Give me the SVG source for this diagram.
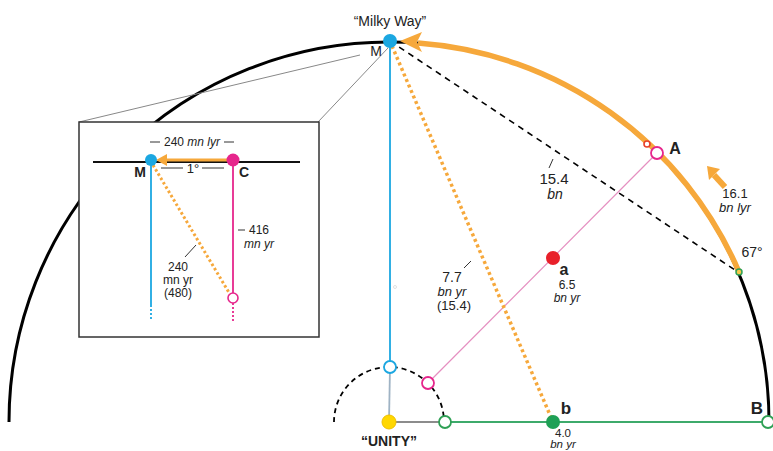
<svg xmlns="http://www.w3.org/2000/svg" width="773" height="451" viewBox="0 0 773 451">
<style>
text{font-family:"Liberation Sans","Noto Sans",Arial,sans-serif;fill:#222;}
.lbl{font-size:14px;text-anchor:middle;}
.big{font-size:15px;text-anchor:middle;}
.bold{font-weight:bold;font-size:15px;}
.it{font-style:italic;}
.small{font-size:12px;text-anchor:middle;}
.tick{stroke:#333;stroke-width:1;fill:none;}
.orange{stroke:#F6A83B;fill:none;}
.dotted{stroke:#F6A83B;stroke-width:3.5;stroke-dasharray:3 3;fill:none;}
</style>
<rect width="773" height="451" fill="#fff"/>
<g id="connectors">
  <path d="M 9 422 A 380 380 0 0 1 769 422" fill="none" stroke="#000" stroke-width="3"/>
  <path d="M 739 272 A 380 380 0 0 0 418 43" class="orange" stroke-width="5.5"/>
  <polygon points="400,41 422,32 417,42 422,52" fill="#F6A83B"/>
  <line x1="390" y1="41" x2="738" y2="272" stroke="#000" stroke-width="1.6" stroke-dasharray="6 5"/>
  <path d="M 334 422 A 55 55 0 0 1 444 422" fill="none" stroke="#000" stroke-width="1.8" stroke-dasharray="5 4"/>
  <line x1="390" y1="41" x2="390" y2="367" stroke="#1BA7E1" stroke-width="1.8"/>
  <line x1="390" y1="367" x2="389" y2="422" stroke="#9fb3c4" stroke-width="1.8"/>
  <line x1="657" y1="153" x2="428" y2="383" stroke="#E58FC0" stroke-width="1.2"/>
  <line x1="389" y1="422" x2="445" y2="422" stroke="#666" stroke-width="1.6"/>
  <line x1="445" y1="422" x2="768" y2="422" stroke="#3DAA6B" stroke-width="2.2"/>
  <line x1="392" y1="46" x2="553" y2="422" class="dotted"/>
  <line x1="360" y1="55" x2="79" y2="122" stroke="#888" stroke-width="1"/>
  <line x1="388" y1="48" x2="318" y2="122" stroke="#888" stroke-width="1"/>
  <line x1="725" y1="187" x2="714" y2="175" stroke="#F6A83B" stroke-width="6"/>
  <polygon points="707,166 720,169 709,180" fill="#F6A83B"/>
  <line x1="553" y1="159" x2="549" y2="168" class="tick"/>
  <line x1="471" y1="261" x2="464" y2="268" class="tick"/>
</g>
<g id="inset">
  <rect x="79" y="122" width="240" height="215" fill="#fff" stroke="#333" stroke-width="1.5"/>
  <line x1="93" y1="162" x2="300" y2="162" stroke="#111" stroke-width="1.8"/>
  <line x1="151" y1="160" x2="151" y2="305" stroke="#1BA7E1" stroke-width="1.8"/>
  <line x1="151" y1="305" x2="151" y2="320" stroke="#1BA7E1" stroke-width="1.8" stroke-dasharray="2 2"/>
  <line x1="233" y1="160" x2="233" y2="293" stroke="#E6268C" stroke-width="1.8"/>
  <line x1="233" y1="303" x2="233" y2="321" stroke="#E6268C" stroke-width="1.8" stroke-dasharray="2 2"/>
  <line x1="153" y1="165" x2="231" y2="296" stroke="#F6A83B" stroke-width="3" stroke-dasharray="2.5 2.5"/>
  <line x1="233" y1="160" x2="165" y2="160" stroke="#F6A83B" stroke-width="3"/>
  <polygon points="156,160 167,154 167,166" fill="#F6A83B"/>
  <circle cx="151" cy="160" r="6" fill="#1BA7E1"/>
  <circle cx="233" cy="160" r="6.5" fill="#E6268C"/>
  <circle cx="233" cy="298" r="5" fill="#fff" stroke="#E6268C" stroke-width="1.6"/>
  <line x1="150" y1="142" x2="160" y2="142" class="tick"/>
  <line x1="224" y1="142" x2="234" y2="142" class="tick"/>
  <text x="192" y="146" class="small">240 <tspan class="it">mn lyr</tspan></text>
  <line x1="161" y1="168" x2="183" y2="168" class="tick"/>
  <line x1="202" y1="168" x2="224" y2="168" class="tick"/>
  <text x="193" y="173" class="small" style="font-size:13px">1°</text>
  <text x="140" y="177" class="bold" text-anchor="middle" style="font-size:14px">M</text>
  <text x="244" y="177" class="bold" text-anchor="middle" style="font-size:14px">C</text>
  <line x1="238" y1="230" x2="245" y2="230" class="tick"/>
  <text x="259" y="234" class="small">416</text>
  <text x="259" y="248" class="small it">mn yr</text>
  <line x1="185" y1="257" x2="196" y2="245" class="tick"/>
  <text x="178" y="271" class="small">240</text>
  <text x="178" y="284" class="small">mn yr</text>
  <text x="178" y="297" class="small">(480)</text>
</g>
<g id="node-M">
  <circle cx="390" cy="41" r="7" fill="#1BA7E1"/>
  <text x="390" y="26" class="lbl">“Milky Way”</text>
  <text x="376" y="56" class="lbl">M</text>
</g>
<g id="node-A">
  <circle cx="647" cy="144" r="3" fill="#fff" stroke="#E8402A" stroke-width="1.6"/>
  <circle cx="657" cy="153" r="6" fill="#fff" stroke="#E6268C" stroke-width="1.8"/>
  <text x="675" y="154" class="bold" text-anchor="middle" style="font-size:16px">A</text>
</g>
<g id="node-67">
  <circle cx="739" cy="272" r="3" fill="#F6C84B" stroke="#2FA055" stroke-width="1.5"/>
  <text x="752" y="257" class="lbl">67°</text>
  <text x="735" y="198" class="lbl" style="font-size:13px">16.1</text>
  <text x="735" y="212" class="lbl it" style="font-size:13px">bn lyr</text>
</g>
<g id="label-15">
  <text x="554" y="184" class="big">15.4</text>
  <text x="555" y="199" class="big it" style="font-size:14px">bn</text>
</g>
<g id="label-77">
  <text x="452" y="282" class="lbl">7.7</text>
  <text x="452" y="296" class="lbl it" style="font-size:13px">bn yr</text>
  <text x="454" y="310" class="lbl" style="font-size:13px">(15.4)</text>
  <circle cx="395" cy="287" r="1.5" fill="none" stroke="#ccc" stroke-width="0.6"/>
</g>
<g id="node-a">
  <circle cx="553" cy="258" r="7" fill="#E8202A"/>
  <text x="564" y="275" class="bold" text-anchor="middle" style="font-size:16px">a</text>
  <text x="567" y="289" class="small">6.5</text>
  <text x="567" y="302" class="small it">bn yr</text>
</g>
<g id="node-unity">
  <circle cx="390" cy="367" r="6" fill="#fff" stroke="#1BA7E1" stroke-width="1.8"/>
  <circle cx="428" cy="383" r="6" fill="#fff" stroke="#E6268C" stroke-width="1.8"/>
  <circle cx="445" cy="422" r="6" fill="#fff" stroke="#2FA055" stroke-width="1.8"/>
  <circle cx="389" cy="422" r="7" fill="#FFD700" stroke="#F0C000" stroke-width="1"/>
  <text x="389" y="446" class="bold" text-anchor="middle" style="font-size:14px">“UNITY”</text>
</g>
<g id="node-b">
  <circle cx="553" cy="422" r="7" fill="#1FA055"/>
  <text x="566" y="414" class="bold" text-anchor="middle" style="font-size:17px">b</text>
  <text x="563" y="437" class="small" style="font-size:11.5px">4.0</text>
  <text x="563" y="447.5" class="small it" style="font-size:11.5px">bn yr</text>
</g>
<g id="node-B">
  <circle cx="768" cy="422" r="6" fill="#fff" stroke="#2FA055" stroke-width="1.8"/>
  <text x="757" y="414" class="bold" text-anchor="middle" style="font-size:17px">B</text>
</g>
</svg>
